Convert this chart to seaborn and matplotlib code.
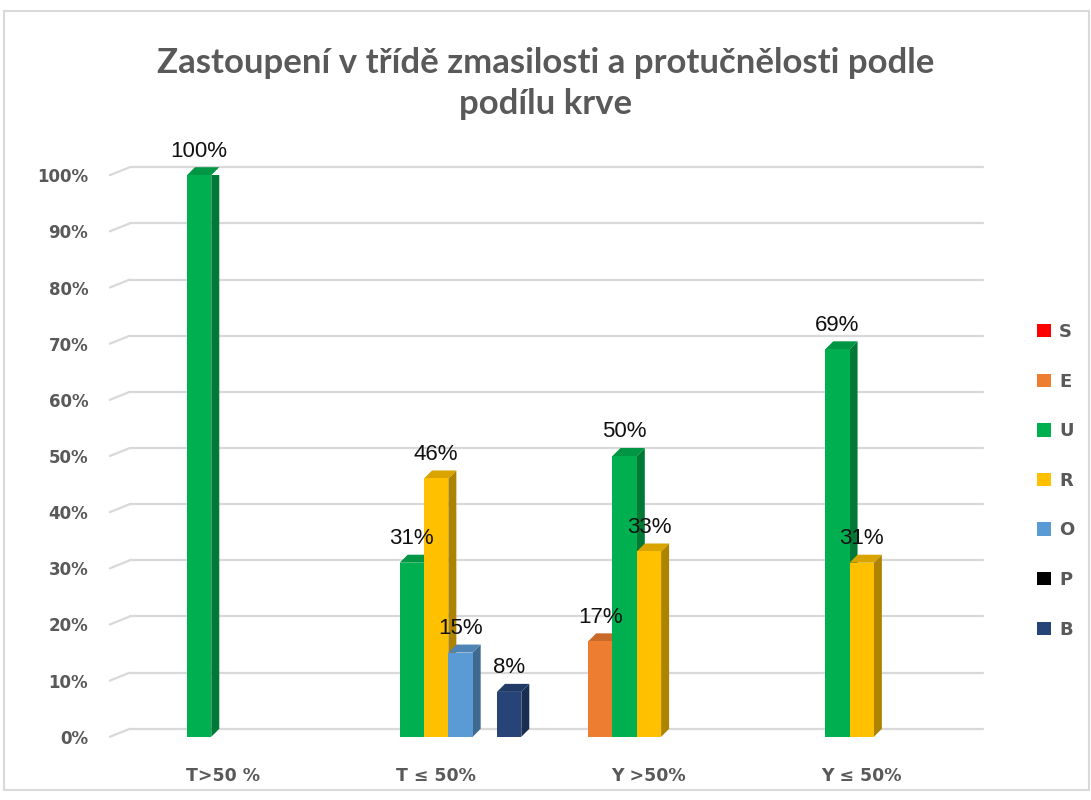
import matplotlib
matplotlib.use("Agg")
import matplotlib.pyplot as plt
from matplotlib.patches import Polygon, Rectangle
from matplotlib import colors as mcolors
import pandas as pd
import seaborn as sns

# data
categories = ["T>50 %", "T ≤ 50%", "Y >50%", "Y ≤ 50%"]
series = ["S", "E", "U", "R", "O", "P", "B"]
S = [0, 0, 0, 0]
E = [0, 0, 17, 0]
U = [100, 31, 50, 69]
R = [0, 46, 33, 31]
O = [0, 15, 0, 0]
P = [0, 0, 0, 0]
B = [0, 8, 0, 0]
palette = ["#FF0000", "#ED7D31", "#00B050", "#FFC000", "#5B9BD5", "#000000", "#264478"]

rows = []
for name, vals in zip(series, [S, E, U, R, O, P, B]):
    for cat, v in zip(categories, vals):
        rows.append({"cat": cat, "series": name, "val": v / 100})
df = pd.DataFrame(rows)

sns.set_style("white")
plt.rcParams["font.family"] = ["DejaVu Sans"]

fig = plt.figure(figsize=(10.91, 8), dpi=100)
ax = fig.add_axes([0.119, 0.079, 0.782, 0.702])

# outer chart border
fig.patches.append(Rectangle((0.004, 0.012), 0.994, 0.974, transform=fig.transFigure,
                             fill=False, edgecolor="#d9d9d9", linewidth=1.5))

sns.barplot(data=df, x="cat", y="val", hue="series", order=categories,
            hue_order=series, palette=palette, width=0.8, linewidth=0,
            saturation=1, legend=False, ax=ax, zorder=3)

ax.set_xlim(-0.44, 3.57)
ax.set_ylim(0, 1)

# 3D depth offsets (in pixels -> data units)
dx = 8 / 213
dy = 8 / 562

# back-wall gridlines with slanted floor stubs
grid_col = "#d9d9d9"
for t in [i / 10 for i in range(11)]:
    ax.plot([0, 1], [t + dy, t + dy], transform=ax.get_yaxis_transform(),
            color=grid_col, lw=1.6, zorder=1, clip_on=False)
    ax.plot([-20 / 853, 0], [t, t + dy], transform=ax.get_yaxis_transform(),
            color=grid_col, lw=1.6, zorder=1, clip_on=False)

# side and top faces for each bar
for cont, col in zip(ax.containers, palette):
    side = tuple(c * 0.68 for c in mcolors.to_rgb(col))
    top = tuple(c * 0.85 for c in mcolors.to_rgb(col))
    for bar in cont:
        h = bar.get_height()
        if h <= 0:
            continue
        x0 = bar.get_x()
        x1 = x0 + bar.get_width()
        ax.add_patch(Polygon([(x1, 0), (x1 + dx, dy), (x1 + dx, h + dy), (x1, h)],
                             closed=True, facecolor=side, edgecolor="none", zorder=2.9))
        ax.add_patch(Polygon([(x0, h), (x0 + dx, h + dy), (x1 + dx, h + dy), (x1, h)],
                             closed=True, facecolor=top, edgecolor="none", zorder=2.9,
                             clip_on=False))
        ax.annotate(f"{h * 100:.0f}%", (x0 + bar.get_width() / 2, h + dy),
                    xytext=(0, 4), textcoords="offset points", ha="center", va="bottom",
                    fontsize=16, color="#111111", family=["Liberation Sans", "DejaVu Sans"],
                    zorder=5, annotation_clip=False)

for s in ax.spines.values():
    s.set_visible(False)
ax.set_xlabel("")
ax.set_ylabel("")
ax.set_yticks([i / 10 for i in range(11)])
ax.set_yticklabels([f"{i * 10}%" for i in range(11)])
ax.tick_params(axis="y", length=0, pad=30, labelsize=12, labelcolor="#595959")
ax.tick_params(axis="x", length=0, pad=22, labelsize=12.5, labelcolor="#595959")
for lab in ax.get_yticklabels() + ax.get_xticklabels():
    lab.set_fontweight("bold")

# legend
handles = [Rectangle((0, 0), 1, 1, facecolor=c, edgecolor="none") for c in palette]
leg = fig.legend(handles, series, loc="center left", bbox_to_anchor=(0.936, 0.399),
                 frameon=False, handlelength=0.75, handleheight=0.75, handletextpad=0.45,
                 labelspacing=1.75, prop={"size": 13, "weight": "bold"})
for t in leg.get_texts():
    t.set_color("#595959")

fig.text(0.5, 0.896, "Zastoupení v třídě zmasilosti a protučnělosti podle\npodílu krve",
         ha="center", va="center", fontsize=25, fontweight="bold", color="#595959",
         family=["Lato", "DejaVu Sans"], linespacing=1.36)

fig.savefig("out.png", dpi=100)
